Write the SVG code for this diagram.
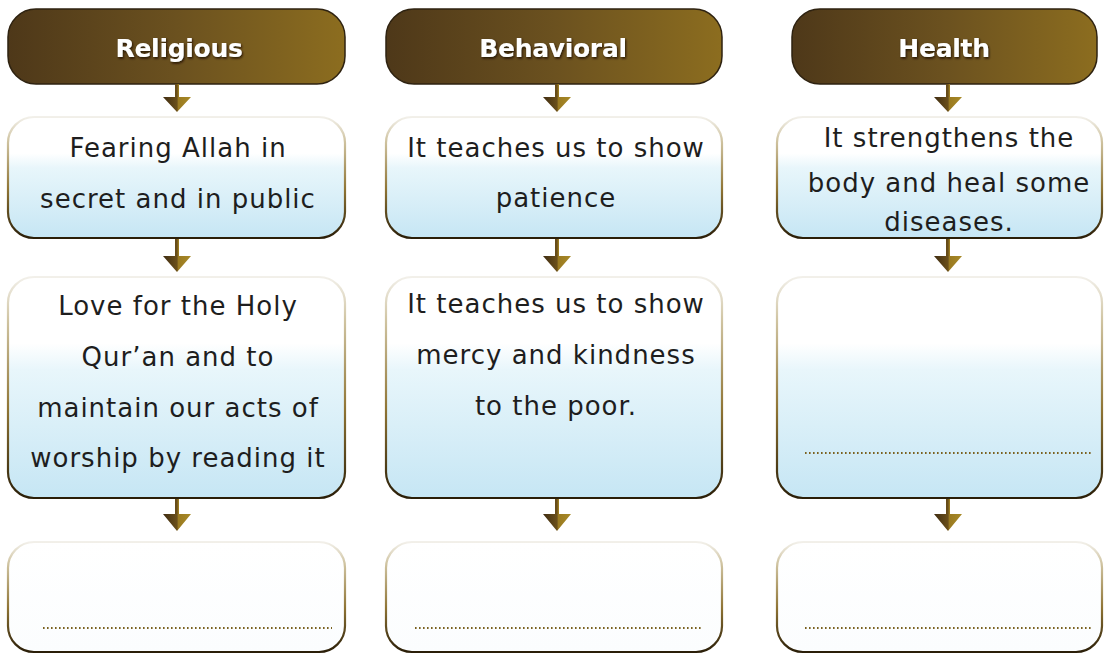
<svg xmlns="http://www.w3.org/2000/svg" width="1104" height="654" viewBox="0 0 1104 654">
<defs>
<linearGradient id="hdrFill" x1="0" y1="0" x2="1" y2="0">
<stop offset="0" stop-color="#4e3819"/>
<stop offset="0.5" stop-color="#6b511f"/>
<stop offset="1" stop-color="#8c6d1f"/>
</linearGradient>
<linearGradient id="arrFill" x1="0" y1="0" x2="1" y2="0">
<stop offset="0" stop-color="#3f2c12"/>
<stop offset="0.5" stop-color="#6a4f1a"/>
<stop offset="0.55" stop-color="#9a7a20"/>
<stop offset="1" stop-color="#a88a28"/>
</linearGradient>
<linearGradient id="blueFill" x1="0" y1="0" x2="0" y2="1">
<stop offset="0" stop-color="#ffffff"/>
<stop offset="0.3" stop-color="#ffffff"/>
<stop offset="0.42" stop-color="#e8f6fb"/>
<stop offset="1" stop-color="#c6e6f4"/>
</linearGradient>
<linearGradient id="whiteFill" x1="0" y1="0" x2="0" y2="1">
<stop offset="0" stop-color="#ffffff"/>
<stop offset="1" stop-color="#fbfdfe"/>
</linearGradient>
<linearGradient id="edge" x1="0" y1="0" x2="0" y2="1">
<stop offset="0" stop-color="#f2f0ea"/>
<stop offset="0.2" stop-color="#cfc3a0"/>
<stop offset="0.6" stop-color="#8f7434"/>
<stop offset="1" stop-color="#2a1e08"/>
</linearGradient>
<filter id="shadow" x="-10%" y="-20%" width="120%" height="150%">
<feDropShadow dx="1" dy="1.5" stdDeviation="0.8" flood-color="#1a1005" flood-opacity="0.9"/>
</filter>
</defs>
<style>
.hdr{fill:url(#hdrFill);stroke:#2e2210;stroke-width:1.5}
.hdrText{font-family:"DejaVu Sans",sans-serif;font-weight:bold;font-size:25px;fill:#ffffff;text-anchor:middle;letter-spacing:-0.3px}
.box{stroke:url(#edge);stroke-width:2.2}
.blue{fill:url(#blueFill)}
.white{fill:url(#whiteFill)}
.txt{font-family:"DejaVu Sans",sans-serif;font-size:26px;fill:#1e1e1e;text-anchor:middle;letter-spacing:1px}
.dots{stroke:#7a6220;stroke-width:2.2;stroke-dasharray:1.6 2.4;fill:none}
.arrow{fill:url(#arrFill)}
</style>
<rect width="1104" height="654" fill="#ffffff"/>

<g id="header-religious">
<rect class="hdr" x="8" y="9" width="337" height="75" rx="28"/>
<text class="hdrText" x="179" y="57" filter="url(#shadow)">Religious</text>
</g>
<g id="header-behavioral">
<rect class="hdr" x="386" y="9" width="336" height="75" rx="28"/>
<text class="hdrText" x="553" y="57" filter="url(#shadow)">Behavioral</text>
</g>
<g id="header-health">
<rect class="hdr" x="792" y="9" width="305" height="75" rx="28"/>
<text class="hdrText" x="944" y="57" filter="url(#shadow)">Health</text>
</g>

<g id="religious-1">
<rect class="box blue" x="8" y="117" width="337" height="121" rx="26"/>
<text class="txt" x="178" y="157">Fearing Allah in</text>
<text class="txt" x="178" y="208">secret and in public</text>
</g>
<g id="religious-2">
<rect class="box blue" x="8" y="277" width="337" height="221" rx="26"/>
<text class="txt" x="178" y="315">Love for the Holy</text>
<text class="txt" x="178" y="366">Qur’an and to</text>
<text class="txt" x="178" y="417">maintain our acts of</text>
<text class="txt" x="178" y="467">worship by reading it</text>
</g>
<g id="religious-3">
<rect class="box white" x="8" y="542" width="337" height="110" rx="26"/>
<line class="dots" x1="43" y1="628" x2="332" y2="628"/>
</g>

<g id="behavioral-1">
<rect class="box blue" x="386" y="117" width="336" height="121" rx="26"/>
<text class="txt" x="556" y="157">It teaches us to show</text>
<text class="txt" x="556" y="207">patience</text>
</g>
<g id="behavioral-2">
<rect class="box blue" x="386" y="277" width="336" height="221" rx="26"/>
<text class="txt" x="556" y="313">It teaches us to show</text>
<text class="txt" x="556" y="364">mercy and kindness</text>
<text class="txt" x="556" y="415">to the poor.</text>
</g>
<g id="behavioral-3">
<rect class="box white" x="386" y="542" width="336" height="110" rx="26"/>
<line class="dots" x1="415" y1="628" x2="702" y2="628"/>
</g>

<g id="health-1">
<rect class="box blue" x="777" y="117" width="325" height="121" rx="26"/>
<text class="txt" x="949" y="147">It strengthens the</text>
<text class="txt" x="949" y="192">body and heal some</text>
<text class="txt" x="949" y="231">diseases.</text>
</g>
<g id="health-2">
<rect class="box blue" x="777" y="277" width="325" height="221" rx="26"/>
<line class="dots" x1="805" y1="453" x2="1093" y2="453"/>
</g>
<g id="health-3">
<rect class="box white" x="777" y="542" width="325" height="110" rx="26"/>
<line class="dots" x1="805" y1="628" x2="1093" y2="628"/>
</g>

<g id="connectors">
<polygon class="arrow" points="175,84 179,84 179,97 191,97 177,112 163,97 175,97"/>
<polygon class="arrow" points="175,239 179,239 179,256 191,256 177,272 163,256 175,256"/>
<polygon class="arrow" points="175,499 179,499 179,514 191,514 177,531 163,514 175,514"/>
<polygon class="arrow" points="555,84 559,84 559,97 571,97 557,112 543,97 555,97"/>
<polygon class="arrow" points="555,239 559,239 559,256 571,256 557,272 543,256 555,256"/>
<polygon class="arrow" points="555,499 559,499 559,514 571,514 557,531 543,514 555,514"/>
<polygon class="arrow" points="946,84 950,84 950,97 962,97 948,112 934,97 946,97"/>
<polygon class="arrow" points="946,239 950,239 950,256 962,256 948,272 934,256 946,256"/>
<polygon class="arrow" points="946,499 950,499 950,514 962,514 948,531 934,514 946,514"/>
</g>
</svg>
